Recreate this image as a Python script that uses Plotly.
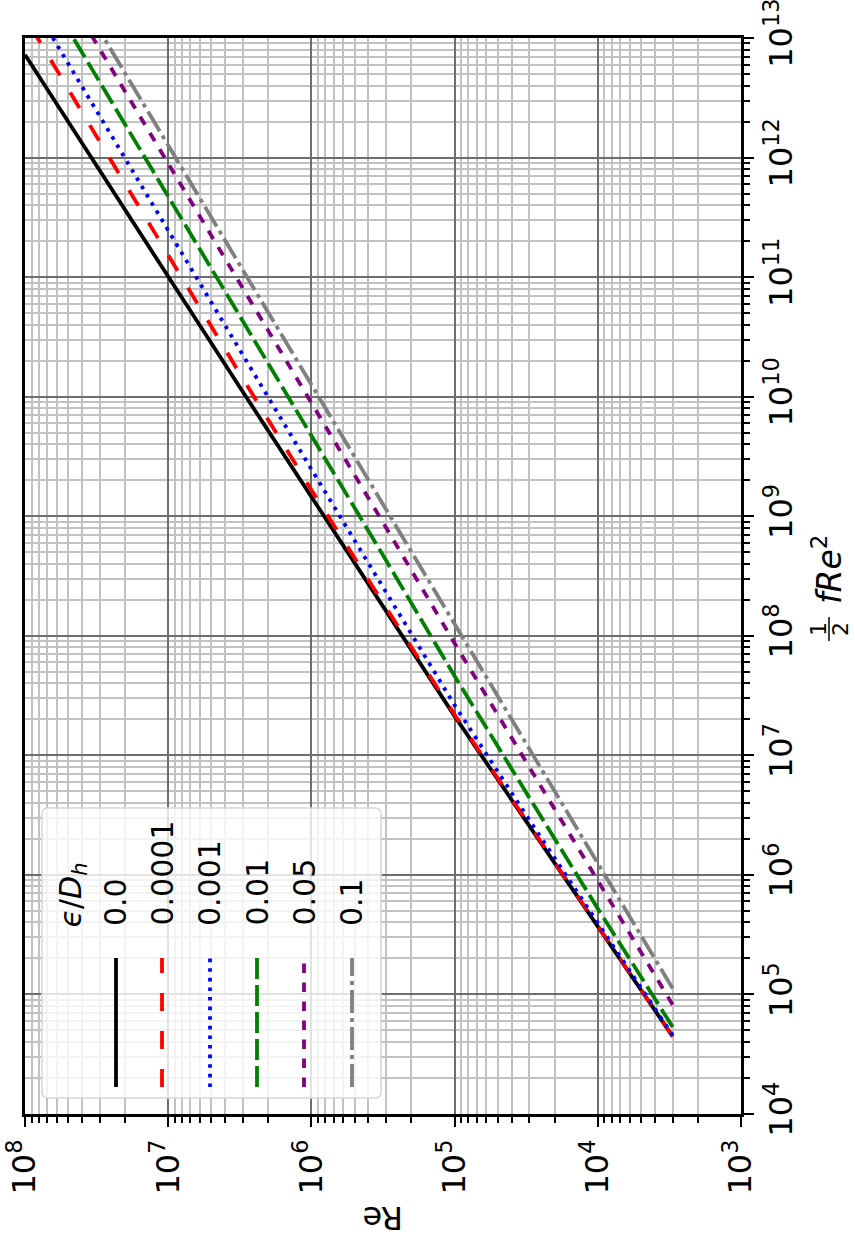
import plotly.graph_objects as go

# Reynolds numbers at which the curves are sampled
reynolds = [3e3, 1e4, 3e4, 1e5, 3e5, 1e6, 3e6, 1e7, 3e7, 1e8]

# (1/2) f Re^2 for each relative roughness eps/D_h
half_f_re2_0 = [4.45e4, 3.72e5, 2.58e6, 2.13e7, 1.60e8, 1.44e9, 1.090e10, 1.010e11, 7.80e11, 7.25e12]
half_f_re2_1e4 = [4.46e4, 3.74e5, 2.61e6, 2.19e7, 1.71e8, 1.66e9, 1.405e10, 1.515e11, 1.350e12, 1.500e13]
half_f_re2_1e3 = [4.55e4, 3.90e5, 2.86e6, 2.63e7, 2.28e8, 2.47e9, 2.215e10, 2.455e11, 2.210e12, 2.455e13]
half_f_re2_1e2 = [5.35e4, 5.22e5, 4.40e6, 4.60e7, 4.24e8, 4.72e9, 4.260e10, 4.740e11, 4.264e12, 4.739e13]
half_f_re2_5e2 = [8.20e4, 8.95e5, 8.00e6, 8.65e7, 7.98e8, 8.90e9, 8.050e10, 8.945e11, 8.049e12, 8.945e13]
half_f_re2_1e1 = [1.12e5, 1.25e6, 1.13e7, 1.23e8, 1.133e9, 1.265e10, 1.144e11, 1.271e12, 1.144e13, 1.271e14]

legend_labels = ["0.0", "0.0001", "0.001", "0.01", "0.05", "0.1"]
series = [half_f_re2_0, half_f_re2_1e4, half_f_re2_1e3, half_f_re2_1e2, half_f_re2_5e2, half_f_re2_1e1]
colors = ["black", "red", "blue", "green", "purple", "gray"]
dashes = ["solid", "18px,20px", "3.6px,6px", "21px,6px", "9.5px,9.5px", "23px,5px,4px,5px"]

re_ticks = [1e3, 1e4, 1e5, 1e6, 1e7, 1e8]
re_ticktext = ["10<sup>%d</sup>" % k for k in range(3, 9)]
f_ticks = [10.0 ** k for k in range(4, 14)]
f_ticktext = ["10<sup>%d</sup>" % k for k in range(4, 14)]

W, H = 855, 1242
L, R, T, B = 25, 741, 38, 1114
FONT = "DejaVu Sans"
LW = 3.8


def px(x):
    return (x - L) / (R - L)


def py(y):
    return (B - y) / (B - T)


def minor_vals(lo, hi):
    vals = []
    for k in range(lo, hi):
        for m in range(2, 10):
            vals.append(m * 10.0 ** k)
    return vals


fig = go.Figure()
for vals, col, dash, lab in zip(series, colors, dashes, legend_labels):
    fig.add_trace(go.Scatter(
        x=reynolds, y=vals, mode="lines", name=lab,
        line=dict(color=col, width=LW, dash=dash),
        showlegend=False,
    ))

axis_common = dict(
    type="log", automargin=False, ticklabeloverflow="allow",
    showline=True, linecolor="black", linewidth=2.5, mirror=True,
    ticks="outside", ticklen=10, tickwidth=2, tickcolor="black",
    showgrid=True, gridcolor="#6e6e6e", gridwidth=1.8,
    zeroline=False,
    tickfont=dict(family=FONT, size=32, color="black"),
)

fig.update_xaxes(
    range=[8, 3], tickmode="array", tickvals=re_ticks, ticktext=re_ticktext,
    tickangle=-90,
    minor=dict(tickmode="array", tickvals=minor_vals(3, 8), ticks="outside",
               ticklen=6, tickwidth=1.5, tickcolor="black",
               showgrid=True, gridcolor="#c2c2c2", gridwidth=1.8),
    **axis_common,
)
fig.update_yaxes(
    range=[4, 13], side="right", tickmode="array", tickvals=f_ticks, ticktext=f_ticktext,
    tickangle=-90,
    minor=dict(tickmode="array", tickvals=minor_vals(4, 13), ticks="outside",
               ticklen=6, tickwidth=1.5, tickcolor="black",
               showgrid=True, gridcolor="#c2c2c2", gridwidth=1.8),
    **axis_common,
)

annotations = []
shapes = []

# axis titles
annotations.append(dict(x=px(383), y=py(1218), xref="paper", yref="paper",
                        text="Re", textangle=180, showarrow=False,
                        font=dict(family=FONT, size=32, color="black"),
                        xanchor="center", yanchor="middle"))
annotations.append(dict(x=px(828), y=py(606), xref="paper", yref="paper",
                        text="<i>fRe</i><sup>2</sup>", textangle=-90, showarrow=False,
                        font=dict(family=FONT, size=33, color="black"),
                        xanchor="center", yanchor="bottom"))
annotations.append(dict(x=px(818), y=py(629), xref="paper", yref="paper",
                        text="1", textangle=-90, showarrow=False,
                        font=dict(family=FONT, size=22, color="black"),
                        xanchor="center", yanchor="middle"))
annotations.append(dict(x=px(840), y=py(629), xref="paper", yref="paper",
                        text="2", textangle=-90, showarrow=False,
                        font=dict(family=FONT, size=22, color="black"),
                        xanchor="center", yanchor="middle"))
shapes.append(dict(type="line", xref="paper", yref="paper",
                   x0=px(829), x1=px(829), y0=py(617), y1=py(641),
                   line=dict(color="black", width=1.5)))

# legend frame with rounded corners
lx0, lx1, ly0, ly1, rad = 42, 381, 808, 1098, 6
path = (
    f"M {px(lx0 + rad)},{py(ly0)} L {px(lx1 - rad)},{py(ly0)} "
    f"Q {px(lx1)},{py(ly0)} {px(lx1)},{py(ly0 + rad)} "
    f"L {px(lx1)},{py(ly1 - rad)} Q {px(lx1)},{py(ly1)} {px(lx1 - rad)},{py(ly1)} "
    f"L {px(lx0 + rad)},{py(ly1)} Q {px(lx0)},{py(ly1)} {px(lx0)},{py(ly1 - rad)} "
    f"L {px(lx0)},{py(ly0 + rad)} Q {px(lx0)},{py(ly0)} {px(lx0 + rad)},{py(ly0)} Z"
)
shapes.append(dict(type="path", path=path, xref="paper", yref="paper",
                   fillcolor="rgba(255,255,255,0.8)",
                   line=dict(color="#d6d6d6", width=1.5), layer="above"))

annotations.append(dict(x=px(72), y=py(930), xref="paper", yref="paper",
                        text="<i>ϵ</i>/<i>D</i><sub><i>h</i></sub>", textangle=-90,
                        showarrow=False, font=dict(family=FONT, size=30, color="black"),
                        xanchor="center", yanchor="bottom"))
entry_x = [116, 162, 210, 257, 304, 352]
for ex, lab, col, dash in zip(entry_x, legend_labels, colors, dashes):
    annotations.append(dict(x=px(ex), y=py(928), xref="paper", yref="paper",
                            text=lab, textangle=-90, showarrow=False,
                            font=dict(family=FONT, size=30, color="black"),
                            xanchor="center", yanchor="bottom"))
    shapes.append(dict(type="line", xref="paper", yref="paper",
                       x0=px(ex), x1=px(ex), y0=py(1087), y1=py(958),
                       line=dict(color=col, width=LW, dash=dash), layer="above"))

fig.update_layout(
    width=W, height=H,
    margin=dict(l=L, r=W - R, t=T, b=H - B, pad=0, autoexpand=False),
    paper_bgcolor="white", plot_bgcolor="white",
    font=dict(family=FONT, color="black"),
    annotations=annotations, shapes=shapes,
    showlegend=False,
)

fig.write_html("out.html")
